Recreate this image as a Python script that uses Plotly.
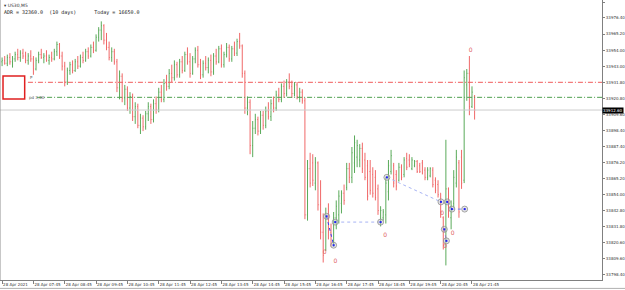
import plotly.graph_objects as go

# ---------------- data (US30, M5, 28 Apr 2021, bar index 0 = 06:45) ----------------
opens = [33946,33947,33945,33949,33946,33948,33951,33949,33952,33950,
         33947,33950,33948,33941,33947,33951,33949,33950,33947,33949,
         33948,33953,33958,33950,33943,33932,33940,33944,33940,33946,
         33943,33949,33947,33953,33950,33956,33954,33963,33968,33971,
         33961,33956,33949,33953,33946,33928,33936,33921,33927,33914,
         33922,33908,33915,33902,33907,33901,33910,33915,33906,33917,
         33913,33925,33920,33931,33929,33938,33935,33944,33937,33946,
         33940,33951,33946,33938,33948,33954,33944,33937,33945,33942,
         33947,33939,33950,33946,33955,33944,33951,33956,33948,33955,
         33952,33960,33957,33938,33914,33918,33888,33900,33906,33898,
         33909,33902,33912,33908,33917,33914,33923,33920,33929,33924,
         33932,33929,33924,33930,33922,33925,33919,33840,33872,33876,
         33862,33876,33847,33828,33816,33839,33828,33820,33838,33840,
         33848,33855,33859,33872,33866,33876,33880,33878,33886,33878,
         33874,33870,33868,33866,33858,33835,33838,33840,33856,33870,
         33874,33868,33864,33873,33868,33879,33878,33872,33874,33877,
         33874,33876,33871,33866,33867,33871,33864,33861,33855,33838,
         33822,33858,33838,33848,33862,33876,33880,33864,33930,33938,
         33915,33922]
highs = [33949,33950,33951,33952,33950,33953,33955,33954,33955,33953,
         33952,33954,33950,33949,33953,33955,33952,33954,33951,33953,
         33955,33960,33959,33953,33946,33942,33946,33947,33948,33950,
         33951,33953,33955,33956,33958,33960,33965,33970,33974,33972,
         33966,33960,33956,33955,33948,33940,33938,33930,33929,33925,
         33924,33918,33917,33910,33909,33912,33918,33917,33920,33922,
         33928,33930,33934,33937,33941,33944,33947,33946,33948,33950,
         33953,33956,33952,33950,33956,33957,33948,33947,33950,33949,
         33951,33952,33955,33957,33958,33953,33959,33958,33957,33960,
         33962,33966,33958,33940,33922,33920,33905,33910,33908,33912,
         33912,33915,33918,33920,33922,33926,33928,33931,33933,33934,
         33938,33933,33932,33932,33928,33927,33921,33878,33883,33882,
         33880,33877,33864,33841,33845,33848,33834,33842,33850,33857,
         33857,33861,33876,33876,33887,33895,33892,33889,33890,33883,
         33878,33878,33873,33871,33861,33846,33844,33866,33878,33885,
         33876,33871,33876,33875,33880,33883,33882,33880,33878,33878,
         33876,33878,33873,33873,33873,33873,33866,33864,33855,33839,
         33892,33859,33850,33871,33885,33878,33885,33940,33941,33950,
         33929,33923]
lows = [33943,33944,33943,33944,33942,33946,33947,33946,33948,33945,
        33944,33946,33937,33940,33945,33948,33945,33946,33944,33946,
        33947,33950,33948,33940,33929,33930,33937,33938,33939,33941,
        33942,33945,33946,33948,33949,33952,33953,33960,33961,33958,
        33954,33947,33946,33944,33925,33920,33918,33916,33912,33910,
        33905,33903,33900,33896,33898,33899,33905,33903,33904,33910,
        33911,33918,33918,33926,33927,33932,33933,33935,33935,33938,
        33939,33944,33935,33937,33945,33942,33934,33935,33940,33938,
        33936,33937,33944,33945,33942,33942,33949,33946,33946,33950,
        33950,33955,33935,33910,33909,33882,33880,33896,33895,33896,
        33899,33900,33906,33905,33911,33912,33918,33918,33921,33922,
        33927,33921,33922,33920,33918,33917,33837,33836,33859,33860,
        33857,33843,33823,33807,33815,33823,33818,33818,33830,33834,
        33841,33847,33857,33862,33862,33869,33873,33873,33869,33864,
        33850,33854,33852,33850,33840,33832,33836,33834,33850,33868,
        33859,33857,33863,33864,33866,33871,33873,33871,33873,33869,
        33869,33868,33864,33864,33866,33859,33855,33852,33838,33816,
        33805,33838,33830,33845,33859,33838,33858,33862,33919,33909,
        33914,33906]
closes = [33947,33945,33949,33946,33948,33951,33949,33952,33950,33947,
          33950,33948,33941,33947,33951,33949,33950,33947,33949,33948,
          33953,33958,33950,33943,33932,33940,33944,33940,33946,33943,
          33949,33947,33953,33950,33956,33954,33963,33968,33971,33961,
          33956,33949,33953,33946,33928,33936,33921,33927,33914,33922,
          33908,33915,33902,33907,33901,33910,33915,33906,33917,33913,
          33925,33920,33931,33929,33938,33935,33944,33937,33946,33940,
          33951,33946,33938,33948,33954,33944,33937,33945,33942,33947,
          33939,33950,33946,33955,33944,33951,33956,33948,33955,33952,
          33960,33957,33938,33914,33918,33888,33900,33906,33898,33909,
          33902,33912,33908,33917,33914,33923,33920,33929,33924,33932,
          33929,33924,33930,33922,33925,33919,33840,33872,33862,33864,
          33876,33847,33828,33812,33839,33828,33820,33838,33846,33853,
          33855,33850,33872,33866,33883,33890,33888,33886,33872,33866,
          33853,33857,33855,33852,33843,33843,33842,33862,33874,33881,
          33862,33860,33873,33866,33878,33873,33875,33878,33877,33870,
          33870,33869,33866,33871,33872,33861,33857,33854,33842,33819,
          33858,33843,33846,33866,33880,33842,33862,33935,33938,33915,
          33925,33912.6]

tick_idx = [0, 12, 24, 36, 48, 60, 72, 84, 96, 108, 120, 132, 144, 156, 168, 180]
tick_txt = ["28 Apr 2021", "28 Apr 07:45", "28 Apr 08:45", "28 Apr 09:45", "28 Apr 10:45",
            "28 Apr 11:45", "28 Apr 12:45", "28 Apr 13:45", "28 Apr 14:45", "28 Apr 15:45",
            "28 Apr 16:45", "28 Apr 17:45", "28 Apr 18:45", "28 Apr 19:45", "28 Apr 20:45",
            "28 Apr 21:45"]
price_ticks = [33987.4, 33976.4, 33965.2, 33954.0, 33943.0, 33931.8, 33920.8, 33909.6,
               33898.4, 33887.4, 33876.2, 33865.2, 33854.0, 33842.8, 33831.8, 33820.6,
               33809.6, 33798.4]

red_level = 33931.8
green_level = 33921.4
bid = closes[-1]

# swing points (bar index, price)
circ_x = [124.3, 127.6, 127.0, 145.0, 147.4, 168.1, 170.5, 172.3, 177.2, 169.4, 170.2]
circ_y = [33839, 33835, 33819, 33835, 33866, 33849, 33849, 33844, 33844, 33830, 33822]
links = [(0, 2, "#3a3af0"), (1, 3, "#a8b4f4"), (4, 5, "#a8b4f4"), (6, 7, "#3a3af0"),
         (7, 8, "#7080f0"), (9, 10, "#a070c8")]
zero_x = [123.6, 127.7, 146.7, 168.6, 172.6, 169.7, 179.5]
zero_y = [33814, 33808, 33826, 33841, 33827, 33818, 33954]

x_min, x_max = -0.8, 229.8
y_min, y_max = 33794.9, 33988.8

fig = go.Figure()

# bid line and level lines
fig.add_trace(go.Scatter(x=[x_min, x_max], y=[bid, bid], mode="lines",
                         line=dict(color="#cccccc", width=1), hoverinfo="skip"))
fig.add_trace(go.Scatter(x=[9.9, x_max], y=[red_level, red_level], mode="lines",
                         line=dict(color="#f05a5a", width=1, dash="5px,2px,1px,2px"), hoverinfo="skip"))
fig.add_trace(go.Scatter(x=[13.4, x_max], y=[green_level, green_level], mode="lines",
                         line=dict(color="#50a050", width=1, dash="5px,2px,1px,2px"), hoverinfo="skip"))

fig.add_trace(go.Ohlc(x=list(range(len(opens))), open=opens, high=highs, low=lows, close=closes,
                      increasing=dict(line=dict(color="#5aaa5a", width=1)),
                      decreasing=dict(line=dict(color="#f06868", width=1)),
                      tickwidth=0.25, hoverinfo="skip"))

for a, b, col in links:
    fig.add_trace(go.Scatter(x=[circ_x[a], circ_x[b]], y=[circ_y[a], circ_y[b]], mode="lines",
                             line=dict(color=col, width=1, dash="dot"), hoverinfo="skip"))

fig.add_trace(go.Scatter(x=circ_x, y=circ_y, mode="markers",
                         marker=dict(size=6, color="rgba(200,200,200,0.45)",
                                     line=dict(color="rgba(140,140,140,0.75)", width=1)),
                         hoverinfo="skip"))
fig.add_trace(go.Scatter(x=circ_x, y=circ_y, mode="markers",
                         marker=dict(size=2, color="#2020f0", symbol="square"), hoverinfo="skip"))
fig.add_trace(go.Scatter(x=zero_x, y=zero_y, mode="text", text=["0"] * len(zero_x),
                         textfont=dict(size=6, color="#e06060", family="DejaVu Sans"),
                         hoverinfo="skip"))

ann = []
ann.append(dict(xref="paper", yref="paper", x=0.003, y=0.997, xanchor="left", yanchor="top",
                text="▾ US30,M5", showarrow=False,
                font=dict(size=4.5, color="#333333", family="DejaVu Sans")))
ann.append(dict(xref="paper", yref="paper", x=0.003, y=0.975, xanchor="left", yanchor="top",
                text="ADR = 32360.0  (10 days)      Today = 16650.0", showarrow=False,
                font=dict(size=5, color="#222222", family="DejaVu Sans Mono")))
ann.append(dict(xref="x", yref="y", x=9.9, y=red_level, xanchor="left", yanchor="bottom",
                text="P", showarrow=False, font=dict(size=4, color="#555555", family="DejaVu Sans")))
ann.append(dict(xref="x", yref="y", x=9.5, y=green_level, xanchor="left", yanchor="middle",
                text="pd 3,00", showarrow=False, font=dict(size=4, color="#555555", family="DejaVu Sans")))
ann.append(dict(xref="paper", yref="y", x=1.0, y=bid, xanchor="left", yanchor="middle",
                text="%.2f" % bid, showarrow=False, bgcolor="black", borderpad=0,
                font=dict(size=4, color="white", family="DejaVu Sans")))
fig.update_layout(annotations=ann)

shapes = [
    dict(type="rect", xref="paper", yref="paper", x0=0.005, x1=0.041, y0=0.646, y1=0.729,
         line=dict(color="#e02020", width=1.5), fillcolor="white"),
    dict(type="line", xref="paper", yref="paper", x0=0, x1=0, y0=0, y1=1,
         line=dict(color="#909090", width=1)),
    dict(type="line", xref="paper", yref="paper", x0=-0.0, x1=1.04, y0=-0.03, y1=-0.03,
         line=dict(color="#b0b0b0", width=1)),
]
fig.update_layout(shapes=shapes)

fig.update_layout(
    width=625, height=290,
    margin=dict(l=0, r=21, t=0, b=10),
    paper_bgcolor="white", plot_bgcolor="white",
    showlegend=False,
    xaxis=dict(range=[x_min, x_max], tickmode="array", tickvals=tick_idx, ticktext=tick_txt,
               tickangle=0,
               ticklabelposition="outside right", ticks="outside", ticklen=3, tickcolor="#808080",
               showline=True, linecolor="#808080", linewidth=1, showgrid=False, zeroline=False,
               rangeslider=dict(visible=False),
               tickfont=dict(size=4, color="#333333", family="DejaVu Sans")),
    yaxis=dict(range=[y_min, y_max], side="right", tickmode="array", tickvals=price_ticks,
               ticktext=["%.2f" % v for v in price_ticks], ticks="outside", ticklen=2,
               tickcolor="#808080", showline=True, linecolor="#808080", linewidth=1,
               showgrid=False, zeroline=False,
               tickfont=dict(size=4, color="#333333", family="DejaVu Sans")),
)

fig.write_html("out.html")
